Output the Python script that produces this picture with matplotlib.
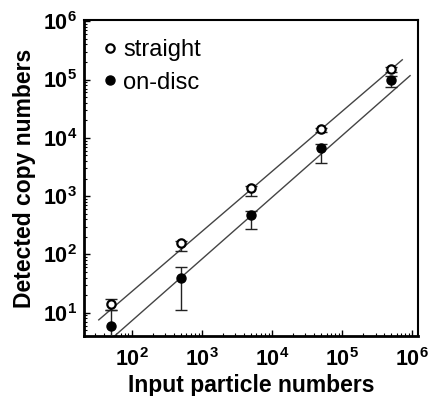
import numpy as np
import matplotlib
matplotlib.use("Agg")
import matplotlib.pyplot as plt
from matplotlib.ticker import LogLocator, NullFormatter

plt.rcParams['font.family'] = ['Liberation Sans', 'DejaVu Sans']
plt.rcParams['mathtext.fontset'] = 'custom'
plt.rcParams['mathtext.rm'] = 'Liberation Sans'
plt.rcParams['mathtext.bf'] = 'Liberation Sans:bold'

# Data
x_input = [50, 500, 5000, 50000, 500000]

straight_y = [14, 155, 1400, 14000, 150000]
straight_lo = [11, 115, 1000, 12500, 135000]
straight_hi = [17, 170, 1500, 15000, 165000]

disc_y = [6, 40, 480, 6800, 100000]
disc_lo = [3, 11, 270, 3700, 75000]
disc_hi = [11, 60, 560, 8000, 115000]

# fitted lines (log10 y = slope * log10 x + intercept) and their x extent
straight_fit = (1.031, -0.70)
straight_fit_x = [34, 7.2e5]
disc_fit = (1.06, -1.26)
disc_fit_x = [40, 9.3e5]

xticks = [1e2, 1e3, 1e4, 1e5, 1e6]
yticks = [1e1, 1e2, 1e3, 1e4, 1e5, 1e6]

fig = plt.figure(figsize=(4.29, 3.96), dpi=100)
ax = fig.add_axes([0.196, 0.1515, 0.778, 0.798])
ax.set_xscale('log')
ax.set_yscale('log')

line_col = '#444444'
for (k, b), xr in [(straight_fit, straight_fit_x), (disc_fit, disc_fit_x)]:
    xs = np.array(xr)
    ax.plot(xs, 10 ** (k * np.log10(xs) + b), color=line_col, lw=1.0, zorder=2)

# error bars
ax.errorbar(x_input, straight_y,
            yerr=[np.array(straight_y) - straight_lo, np.array(straight_hi) - straight_y],
            fmt='none', ecolor='#222222', elinewidth=1.0, capsize=4.5, capthick=1.0, zorder=3)
ax.errorbar(x_input, disc_y,
            yerr=[np.array(disc_y) - disc_lo, np.array(disc_hi) - disc_y],
            fmt='none', ecolor='#222222', elinewidth=1.0, capsize=4.5, capthick=1.0, zorder=3)

h1, = ax.plot(x_input, straight_y, 'o', ms=6, mfc='white', mec='black', mew=1.6,
              label='straight', zorder=4)
h2, = ax.plot(x_input, disc_y, 'o', ms=6.5, mfc='black', mec='black',
              label='on-disc', zorder=4)

ax.set_xlim(21, 1.2e6)
ax.set_ylim(4, 1.05e6)

ax.set_xticks(xticks)
ax.set_xticklabels([r'$\mathbf{10^{%d}}$' % int(np.log10(v)) for v in xticks])
ax.set_yticks(yticks)
ax.set_yticklabels([r'$\mathbf{10^{%d}}$' % int(np.log10(v)) for v in yticks])
ax.xaxis.set_minor_locator(LogLocator(base=10, subs=np.arange(2, 10), numticks=20))
ax.yaxis.set_minor_locator(LogLocator(base=10, subs=np.arange(2, 10), numticks=20))
ax.xaxis.set_minor_formatter(NullFormatter())
ax.yaxis.set_minor_formatter(NullFormatter())

ax.tick_params(which='both', direction='in', top=False, right=False, labelsize=15.5)
ax.tick_params(which='major', length=4, width=1.0)
ax.tick_params(axis='x', which='major', pad=9)
ax.tick_params(axis='y', which='major', pad=5)
ax.tick_params(which='minor', length=2.5, width=0.8)

for s in ['left', 'bottom']:
    ax.spines[s].set_linewidth(2.0)
for s in ['top', 'right']:
    ax.spines[s].set_linewidth(1.5)

ax.set_xlabel('Input particle numbers', fontsize=16.5, fontweight='bold', labelpad=2)
ax.set_ylabel('Detected copy numbers', fontsize=16.5, fontweight='bold', labelpad=5)

ax.legend(handles=[h1, h2], loc='upper left', frameon=False, fontsize=17,
          handlelength=0.4, handletextpad=0.35, labelspacing=0.45,
          borderpad=0, borderaxespad=0, bbox_to_anchor=(0.064, 0.94))

fig.savefig('out.png', dpi=100)
